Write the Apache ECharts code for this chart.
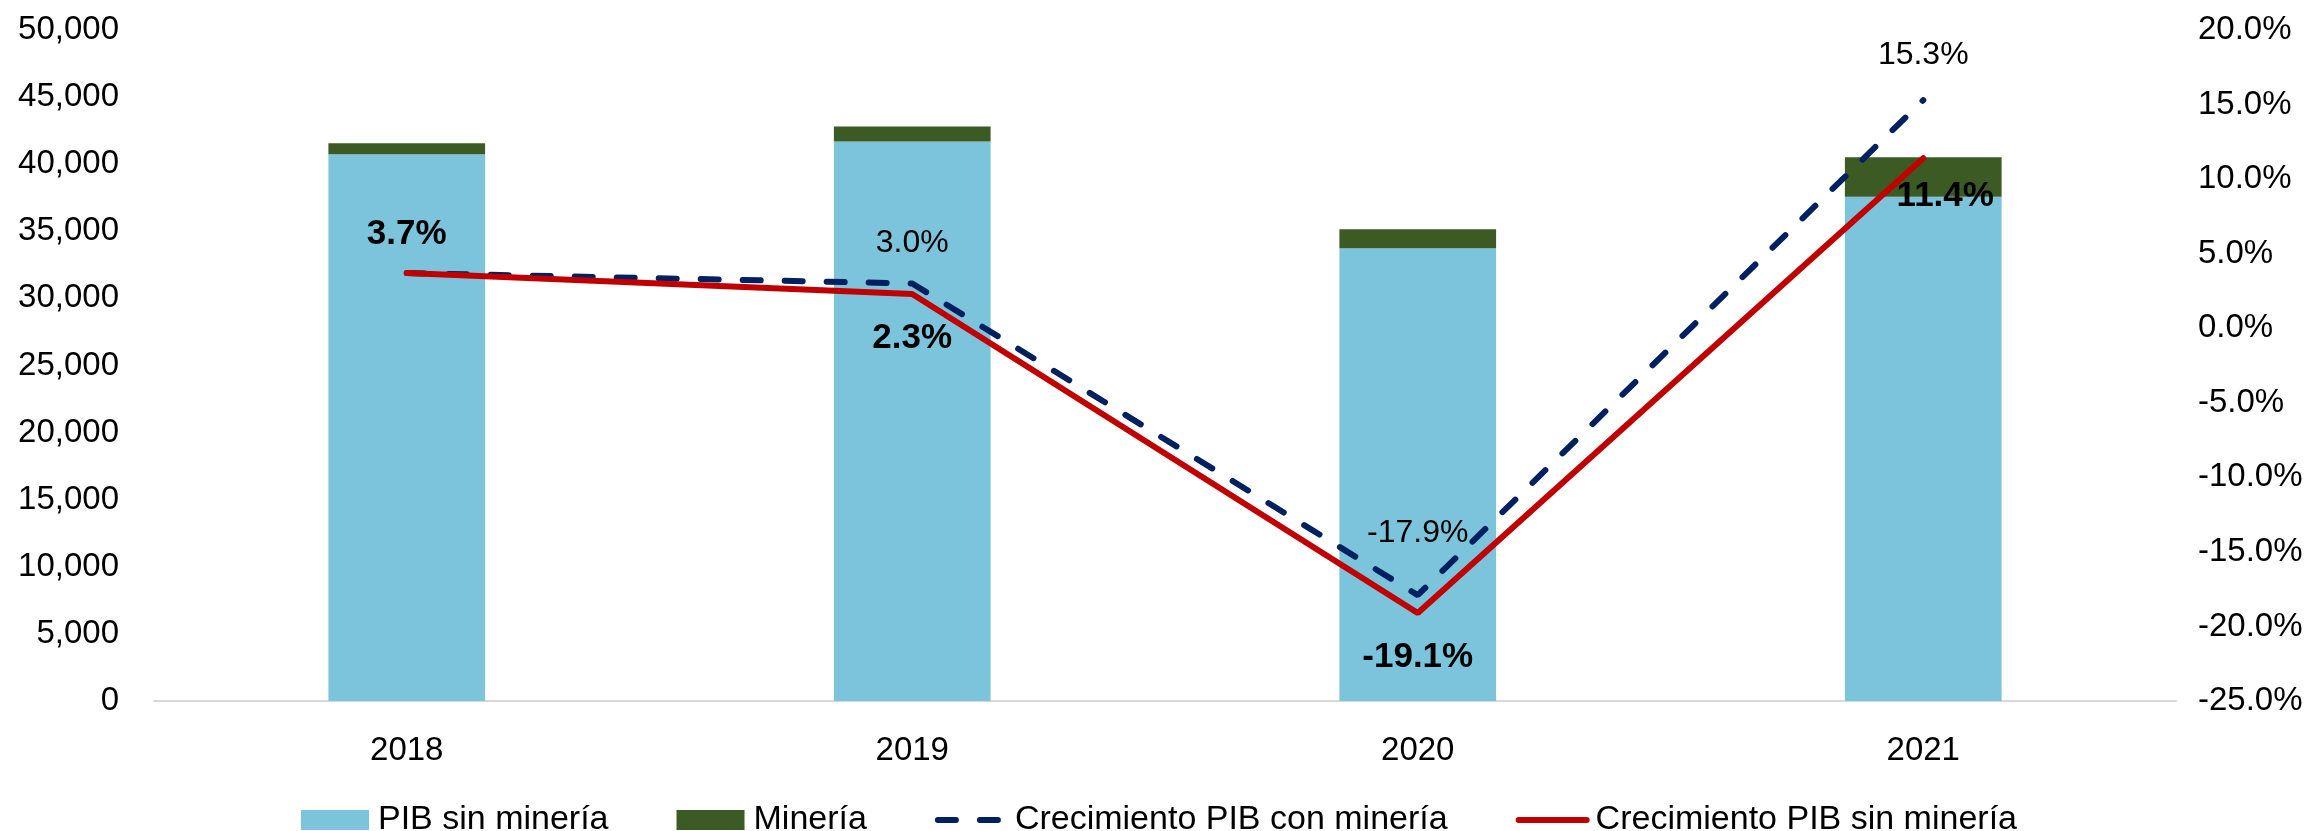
<!DOCTYPE html>
<html>
<head>
<meta charset="utf-8">
<script src="https://cdn.jsdelivr.net/npm/echarts@6/dist/echarts.min.js"></script>
<style>
  html, body { margin: 0; padding: 0; background: #fff; }
  #chart { width: 2318px; height: 831px; }
</style>
</head>
<body>
<div id="chart"></div>
<script>
// categorias y valores
var years = ['2018', '2019', '2020', '2021'];
var pibSinMineria = [40750, 41690, 33730, 37570];
var mineria = [810, 1120, 1420, 2950];
var crecConMineria = [3.7, 3.0, -17.9, 15.3];
var crecSinMineria = [3.7, 2.3, -19.1, 11.4];

var FONT = 'Liberation Sans';

var chart = echarts.init(document.getElementById('chart'));

// posicion de cada etiqueta (en el original estan movidas a mano)
var sinLabelPos = [
  {position: 'top', distance: 20},
  {position: 'bottom', distance: 26},
  {position: 'bottom', distance: 26},
  {position: 'bottom', distance: 20, offset: [22, 0]}
];
var conLabelPos = [
  null,
  {position: 'top', distance: 23},
  {position: 'top', distance: 45},
  {position: 'top', distance: 28}
];

function pct(d) { return d.value.toFixed(1) + '%'; }

var option = {
  animation: false,
  textStyle: {fontFamily: FONT, color: '#000'},
  grid: {left: 154, right: 142, top: 30, bottom: 130, containLabel: false, outerBoundsMode: 'none'},
  legend: {
    top: 798,
    left: 296,
    itemWidth: 68,
    itemHeight: 20,
    itemGap: 68,
    lineStyle: {width: 6},
    textStyle: {fontFamily: FONT, fontSize: 34, color: '#000', padding: [0, 0, 0, 4]},
    data: [
      {name: 'PIB sin minería', icon: 'rect'},
      {name: 'Minería', icon: 'rect'},
      'Crecimiento PIB con minería',
      'Crecimiento PIB sin minería'
    ]
  },
  xAxis: {
    type: 'category',
    data: years,
    axisLine: {lineStyle: {color: '#D9D9D9', width: 2}},
    axisTick: {show: false},
    axisLabel: {fontFamily: FONT, fontSize: 33, color: '#000', margin: 33}
  },
  yAxis: [
    {
      type: 'value',
      min: 0,
      max: 50000,
      interval: 5000,
      splitLine: {show: false},
      axisLine: {show: false},
      axisTick: {show: false},
      axisLabel: {
        fontFamily: FONT, fontSize: 33, color: '#000', margin: 35,
        formatter: function (v) { return v.toLocaleString('en-US'); }
      }
    },
    {
      type: 'value',
      min: -25,
      max: 20,
      interval: 5,
      position: 'right',
      splitLine: {show: false},
      axisLine: {show: false},
      axisTick: {show: false},
      axisLabel: {
        fontFamily: FONT, fontSize: 33, color: '#000', margin: 22, align: 'left',
        formatter: function (v) { return v.toFixed(1) + '%'; }
      }
    }
  ],
  series: [
    {
      name: 'PIB sin minería',
      type: 'bar',
      stack: 'pib',
      barWidth: '31%',
      itemStyle: {color: '#7BC4DC'},
      data: pibSinMineria
    },
    {
      name: 'Minería',
      type: 'bar',
      stack: 'pib',
      itemStyle: {color: '#3C5A24'},
      data: mineria
    },
    {
      name: 'Crecimiento PIB con minería',
      type: 'line',
      yAxisIndex: 1,
      symbol: 'circle',
      symbolSize: 2,
      z: 3,
      lineStyle: {color: '#002060', width: 6, type: [18, 24], cap: 'round'},
      itemStyle: {color: 'rgba(0,0,0,0)', borderWidth: 0},
      data: crecConMineria.map(function (v, i) {
        var p = conLabelPos[i];
        if (!p) return {value: v};
        return {
          value: v,
          label: Object.assign({
            show: true, fontFamily: FONT, fontSize: 32, color: '#000', formatter: pct
          }, p)
        };
      })
    },
    {
      name: 'Crecimiento PIB sin minería',
      type: 'line',
      yAxisIndex: 1,
      symbol: 'circle',
      symbolSize: 2,
      z: 4,
      lineStyle: {color: '#C00000', width: 6, cap: 'round'},
      itemStyle: {color: 'rgba(0,0,0,0)', borderWidth: 0},
      data: crecSinMineria.map(function (v, i) {
        return {
          value: v,
          label: Object.assign({
            show: true, fontFamily: FONT, fontSize: 35, fontWeight: 'bold', color: '#000', formatter: pct
          }, sinLabelPos[i])
        };
      })
    }
  ]
};

chart.setOption(option);
</script>
</body>
</html>
